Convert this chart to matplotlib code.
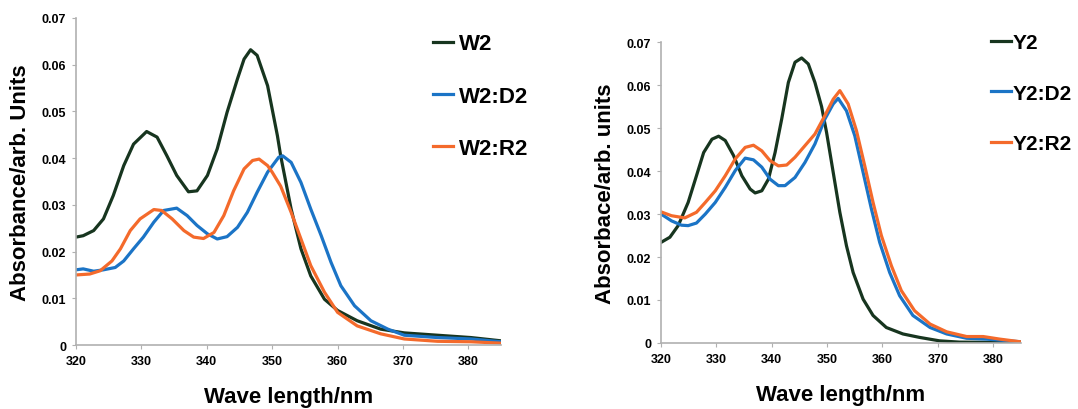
import matplotlib.pyplot as plt

plt.rcParams['font.family'] = ['Liberation Sans', 'DejaVu Sans']
plt.rcParams['font.weight'] = 'bold'

c_dark = "#17351f"
c_blue = "#1b74c6"
c_orange = "#f46a2b"

# left panel: W2 series
w2_x = [320, 321.1, 322.7, 324.2, 325.7, 327.3, 328.8, 330.8, 332.4, 333.9, 335.4, 337.2, 338.5, 340.1,
        341.6, 343.1, 344.7, 345.7, 346.7, 347.7, 349.3, 350.8, 351.3, 352.9, 354.4, 355.9, 358, 360,
        363, 366.6, 370.2, 375.3, 380.4, 385]
w2_y = [0.0231, 0.0234, 0.0245, 0.0270, 0.0320, 0.0384, 0.0430, 0.0457, 0.0445, 0.0405, 0.0363, 0.0328,
        0.0330, 0.0363, 0.0420, 0.0498, 0.0570, 0.0612, 0.0632, 0.0620, 0.0555, 0.0448, 0.0405, 0.0291,
        0.0206, 0.0148, 0.0098, 0.0074, 0.0052, 0.0034, 0.0026, 0.0021, 0.0016, 0.0009]

w2d2_x = [320, 321.1, 322.7, 324.2, 326, 327.3, 328.8, 330.3, 331.9, 333.4, 335.4, 337, 338.5, 340.1,
          341.6, 343.1, 344.7, 346.2, 347.7, 349.3, 351.0, 351.6, 352.9, 354.4, 355.9, 357.5, 359,
          360.5, 362.6, 365.1, 367.7, 370.2, 375.3, 380.4, 385]
w2d2_y = [0.0161, 0.0163, 0.0158, 0.0161, 0.0166, 0.0180, 0.0206, 0.0231, 0.0263, 0.0288, 0.0293, 0.0277,
          0.0256, 0.0238, 0.0227, 0.0232, 0.0252, 0.0284, 0.0327, 0.0370, 0.0402, 0.0405, 0.0391, 0.0348,
          0.0291, 0.0234, 0.0177, 0.0127, 0.0084, 0.0052, 0.0034, 0.0021, 0.0016, 0.0013, 0.0007]

w2r2_x = [320, 322.1, 323.7, 325.5, 326.8, 328.3, 329.8, 331.9, 333.1, 334.7, 336.5, 338, 339.5, 341.1,
          342.6, 344.1, 345.7, 347, 348, 349.3, 350.0, 351.3, 352.9, 354.4, 355.9, 358, 360, 363, 366.6,
          370.2, 375.3, 380.4, 385]
w2r2_y = [0.0150, 0.0152, 0.0159, 0.0180, 0.0206, 0.0245, 0.0270, 0.0290, 0.0288, 0.0270, 0.0245, 0.0231,
          0.0228, 0.0241, 0.0277, 0.0330, 0.0377, 0.0395, 0.0398, 0.0384, 0.0370, 0.0340, 0.0284, 0.0227,
          0.0170, 0.0113, 0.0070, 0.0041, 0.0024, 0.0013, 0.0008, 0.0007, 0.0004]

# right panel: Y2 series
y2_x = [320, 321.6, 323.1, 324.9, 326.4, 327.7, 329.2, 330.4, 331.6, 333.1, 334.6, 336.1, 337, 338.2,
        339.4, 340.6, 341.8, 343.0, 344.2, 345.4, 346.6, 347.8, 349.0, 349.9, 351.1, 352.3, 353.5, 354.7,
        356.5, 358.3, 360.7, 363.7, 366.7, 370.3, 373.9, 385]
y2_y = [0.0234, 0.0246, 0.0273, 0.0327, 0.0389, 0.0443, 0.0474, 0.0481, 0.0471, 0.0436, 0.0389, 0.0358,
        0.0349, 0.0354, 0.0381, 0.0443, 0.0521, 0.0606, 0.0653, 0.0663, 0.0649, 0.0606, 0.0550, 0.0490,
        0.0397, 0.0304, 0.0226, 0.0164, 0.0102, 0.0064, 0.0036, 0.0021, 0.0013, 0.0005, 0.0002, 0.0001]

y2d2_x = [320, 321.9, 323.7, 324.9, 326.4, 328, 329.8, 331.6, 333.4, 335.2, 336.7, 338.2, 339.7, 341.2,
          342.4, 344.2, 346.0, 347.8, 349.6, 351.1, 352.0, 353.5, 355, 356.5, 358, 359.5, 361.3, 363.1,
          365.5, 368.6, 371.6, 375.2, 378.8, 384.8]
y2d2_y = [0.0300, 0.0284, 0.0274, 0.0273, 0.0279, 0.0300, 0.0327, 0.0362, 0.0401, 0.0430, 0.0426, 0.0409,
          0.0381, 0.0366, 0.0366, 0.0385, 0.0420, 0.0463, 0.0521, 0.0556, 0.0569, 0.0540, 0.0482, 0.0397,
          0.0312, 0.0234, 0.0164, 0.0110, 0.0064, 0.0036, 0.0021, 0.0011, 0.0009, 0.0003]

y2r2_x = [320, 321.9, 324.3, 326.4, 328, 329.8, 331.6, 333.4, 335.2, 336.7, 338.2, 339.7, 341.2, 342.7,
          344.2, 346.0, 347.8, 349.6, 351.1, 352.3, 353.8, 355.3, 356.8, 358.3, 359.8, 361.6, 363.4, 365.8,
          368.6, 371.6, 375.2, 378.2, 381.2, 384.8]
y2r2_y = [0.0305, 0.0296, 0.0291, 0.0304, 0.0327, 0.0354, 0.0389, 0.0428, 0.0455, 0.0460, 0.0447, 0.0424,
          0.0412, 0.0414, 0.0432, 0.0459, 0.0486, 0.0529, 0.0567, 0.0587, 0.0556, 0.0494, 0.0412, 0.0327,
          0.0250, 0.0180, 0.0122, 0.0075, 0.0044, 0.0026, 0.0015, 0.0015, 0.0009, 0.0003]

fig = plt.figure(figsize=(10.78, 4.10), dpi=100)
ax1 = fig.add_axes([0.0705, 0.156, 0.3943, 0.7977])
ax2 = fig.add_axes([0.6132, 0.161, 0.3338, 0.734])


def style(ax):
    for s in ["top", "right"]:
        ax.spines[s].set_visible(False)
    for s in ["left", "bottom"]:
        ax.spines[s].set_color("#b0b0b0")
        ax.spines[s].set_linewidth(1.2)
    ax.set_xlim(320, 385)
    ax.set_ylim(0, 0.07)
    ax.set_xticks([320, 330, 340, 350, 360, 370, 380])
    ax.set_yticks([0, 0.01, 0.02, 0.03, 0.04, 0.05, 0.06, 0.07])
    ax.set_yticklabels(["0", "0.01", "0.02", "0.03", "0.04", "0.05", "0.06", "0.07"])
    ax.tick_params(length=3, color="#b0b0b0", labelsize=9, pad=4)
    for t in ax.get_xticklabels() + ax.get_yticklabels():
        t.set_fontweight("bold")
    ax.set_xlabel("Wave length/nm", fontsize=16, fontweight="bold", labelpad=14)


lw = 2.3
ax1.plot(w2_x, w2_y, color=c_dark, lw=lw, label="W2")
ax1.plot(w2d2_x, w2d2_y, color=c_blue, lw=lw, label="W2:D2")
ax1.plot(w2r2_x, w2r2_y, color=c_orange, lw=lw, label="W2:R2")
style(ax1)
ax1.set_ylabel("Absorbance/arb. Units", fontsize=16, fontweight="bold", labelpad=8)

ax2.plot(y2_x, y2_y, color=c_dark, lw=lw, label="Y2")
ax2.plot(y2d2_x, y2d2_y, color=c_blue, lw=lw, label="Y2:D2")
ax2.plot(y2r2_x, y2r2_y, color=c_orange, lw=lw, label="Y2:R2")
style(ax2)
ax2.set_ylabel("Absorbace/arb. units", fontsize=16, fontweight="bold", labelpad=8)

ax1.legend(loc="upper left", bbox_to_anchor=(433 / 1078, 0.916), bbox_transform=fig.transFigure,
           frameon=False, handlelength=0.9, handletextpad=0.25,
           labelspacing=1.4, borderpad=0, borderaxespad=0,
           prop={"weight": "bold", "size": 16})
ax2.legend(loc="upper left", bbox_to_anchor=(991 / 1078, 0.916), bbox_transform=fig.transFigure,
           frameon=False, handlelength=0.95, handletextpad=0.1,
           labelspacing=1.5, borderpad=0, borderaxespad=0,
           prop={"weight": "bold", "size": 15})

fig.savefig("out.png", dpi=100)
